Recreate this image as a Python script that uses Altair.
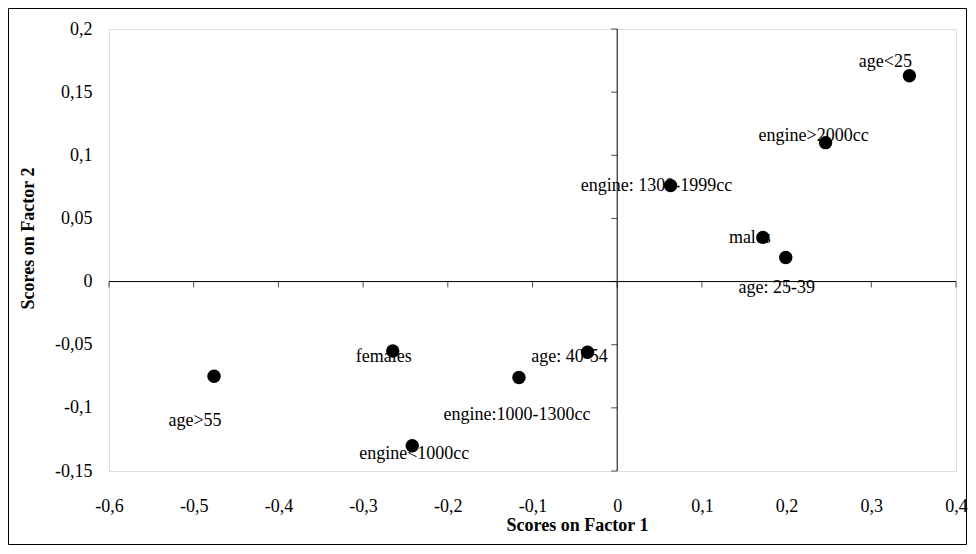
import altair as alt
import pandas as pd

# ---- data ----
labels = ["age<25", "engine>2000cc", "engine: 1300-1999cc", "males", "age: 25-39",
          "females", "age: 40-54", "engine:1000-1300cc", "engine<1000cc", "age>55"]
factor1 = [0.345, 0.246, 0.063, 0.172, 0.199, -0.265, -0.035, -0.116, -0.242, -0.476]
factor2 = [0.163, 0.110, 0.076, 0.035, 0.019, -0.055, -0.056, -0.076, -0.130, -0.075]

x_ticks = [-0.6, -0.5, -0.4, -0.3, -0.2, -0.1, 0, 0.1, 0.2, 0.3, 0.4]
y_ticks = [-0.15, -0.1, -0.05, 0, 0.05, 0.1, 0.15, 0.2]
x_domain = [-0.6, 0.4]
y_domain = [-0.15, 0.2]

# label placement (pixel offsets from each point), kept apart from the data
label_offsets = {
    "age<25": (-24, -9),
    "engine>2000cc": (-12, -2),
    "engine: 1300-1999cc": (-14, 5),
    "males": (-13, 6),
    "age: 25-39": (-9, 35),
    "females": (-9, 11),
    "age: 40-54": (-18, 10),
    "engine:1000-1300cc": (-2, 42),
    "engine<1000cc": (2, 13),
    "age>55": (-19, 50),
}

FONT = "Liberation Serif"
FS = 18
W, H = 847, 442
PAD = {"left": 101, "top": 21, "right": 12, "bottom": 75}

df = pd.DataFrame({"label": labels, "f1": factor1, "f2": factor2})
xt = pd.DataFrame({"v": x_ticks})
yt = pd.DataFrame({"v": y_ticks})

lab_expr = "replace(toString(datum.value), '.', ',')"

xscale = alt.Scale(domain=x_domain, nice=False, zero=False)
yscale = alt.Scale(domain=y_domain, nice=False, zero=False)

xaxis = alt.Axis(values=x_ticks, labelExpr=lab_expr, domain=False, ticks=False, tickSize=0,
                 grid=False, labelPadding=40, labelBaseline="alphabetic", labelFont=FONT,
                 labelFontSize=FS, labelColor="black", title="Scores on Factor 1",
                 titleFont=FONT, titleFontSize=FS, titleFontWeight="bold", titleColor="black",
                 titleX=468, titleY=59, titleBaseline="alphabetic", labelFlush=False)
yaxis = alt.Axis(values=y_ticks, labelExpr=lab_expr, domain=False, ticks=False, tickSize=0,
                 grid=False, labelPadding=17, labelFont=FONT, labelFontSize=FS,
                 labelColor="black", title="Scores on Factor 2", titleFont=FONT,
                 titleFontSize=FS, titleFontWeight="bold", titleColor="black",
                 titleX=-76, titleY=209, titleBaseline="alphabetic", titleAngle=270,
                 labelFlush=False)

base = alt.Chart(df)

# outer frame of the whole chart (decoration)
total_w = PAD["left"] + W + PAD["right"]
total_h = PAD["top"] + H + PAD["bottom"]
frame = alt.Chart(alt.Data(values=[{}])).mark_rect(
    fillOpacity=0, stroke="black", strokeWidth=1
).encode(
    x=alt.value(-PAD["left"] + 0.5), x2=alt.value(total_w - PAD["left"] - 1.5),
    y=alt.value(-PAD["top"] + 0.5), y2=alt.value(total_h - PAD["top"] - 1.5),
)

hline = alt.Chart(alt.Data(values=[{}])).mark_rule(color="black", strokeWidth=1).encode(
    x=alt.datum(x_domain[0], scale=xscale, axis=xaxis),
    x2=alt.datum(x_domain[1]),
    y=alt.datum(0, scale=yscale, axis=yaxis),
)
vline = alt.Chart(alt.Data(values=[{}])).mark_rule(color="black", strokeWidth=1).encode(
    x=alt.datum(0),
    y=alt.datum(y_domain[0]),
    y2=alt.datum(y_domain[1]),
)
xtick_marks = alt.Chart(xt).mark_tick(orient="vertical", size=6, thickness=1, color="black",
                                      yOffset=3).encode(
    x=alt.X("v:Q"), y=alt.datum(0)
)
ytick_marks = alt.Chart(yt).mark_tick(orient="horizontal", size=6, thickness=1, color="black",
                                      xOffset=-3).encode(
    y=alt.Y("v:Q"), x=alt.datum(0)
)

texts = []
for lab in labels:
    dx, dy = label_offsets[lab]
    texts.append(
        base.transform_filter(alt.datum.label == lab)
        .mark_text(font=FONT, fontSize=FS, color="black", align="center",
                   baseline="alphabetic", dx=dx, dy=dy)
        .encode(x="f1:Q", y="f2:Q", text="label:N")
    )

points = base.mark_circle(size=180, color="black", opacity=1).encode(
    x="f1:Q", y="f2:Q"
)

chart = alt.layer(frame, hline, vline, xtick_marks, ytick_marks, *texts, points).properties(
    width=W, height=H,
    autosize=alt.AutoSizeParams(type="none"),
    padding=PAD,
).configure_view(stroke=None).configure(background="white")

chart.save("out.html", embed_options={"renderer": "svg", "actions": False})
